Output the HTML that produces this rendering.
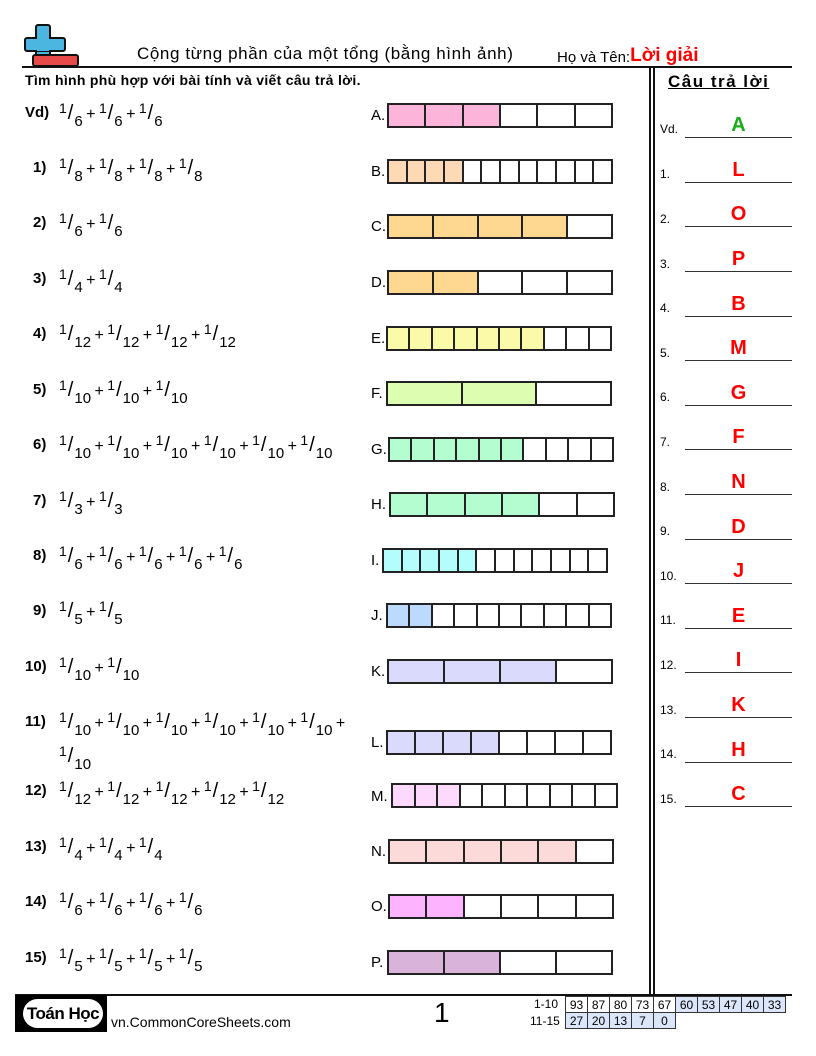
<!DOCTYPE html>
<html><head><meta charset="utf-8"><style>
body{margin:0;width:816px;height:1056px;position:relative;background:#fff;font-family:"Liberation Sans",sans-serif;color:#000;overflow:hidden}
.a{position:absolute;white-space:nowrap}
.bar{position:absolute;height:21px;border:2px solid #222;display:flex;box-sizing:content-box}
.bar div{flex:1;border-right:2px solid #222}
.bar div:last-child{border-right:none}
.n{font-weight:bold;font-size:15px}
.p{font-size:16px;word-spacing:-1px}
.p sup{font-size:14px;vertical-align:6px}
.p sub{font-size:15px;vertical-align:-7px}
.p i{font-style:normal;font-size:20px;margin:0 1px}
.lbl{font-size:15px}
.ans{position:absolute;left:685px;width:107px;border-bottom:1.5px solid #333;height:20px;text-align:center;font-weight:bold;font-size:20px;color:#f00;line-height:16px}
.an{position:absolute;left:660px;font-size:12px}
table{border-collapse:collapse;position:absolute;font-size:12px}
td{border:1px solid #333;padding:0;text-align:center;width:21px;height:15px}
</style></head><body>
<!-- logo -->
<div class="a" style="left:35px;top:24px;width:12px;height:36px;background:#4bb6e0;border:2px solid #111;border-radius:3px"></div>
<div class="a" style="left:24px;top:37px;width:38px;height:11px;background:#4bb6e0;border:2px solid #111;border-radius:3px"></div>
<div class="a" style="left:37px;top:36px;width:12px;height:15px;background:#4bb6e0"></div>
<div class="a" style="left:32px;top:54px;width:43px;height:9px;background:#e84a4a;border:2px solid #111;border-radius:3px"></div>
<div class="a" style="left:137px;top:44px;font-size:17px;letter-spacing:0.6px">Cộng từng phần của một tổng (bằng hình ảnh)</div>
<div class="a" style="left:557px;top:46px;font-size:15px">Họ và Tên:<span style="color:#f00;font-weight:bold;font-size:19px;position:relative;top:-1px">Lời giải</span></div>
<div class="a" style="left:22px;top:66px;width:770px;height:2px;background:#111"></div>
<div class="a" style="left:649px;top:67px;width:1.5px;height:928px;background:#111"></div>
<div class="a" style="left:653px;top:67px;width:1.5px;height:928px;background:#111"></div>
<div class="a" style="left:25px;top:72px;font-size:14px;font-weight:bold;letter-spacing:0.3px">Tìm hình phù hợp với bài tính và viết câu trả lời.</div>
<div class="a" style="left:668px;top:72px;font-size:17px;font-weight:bold;letter-spacing:1.5px;text-decoration:underline">Câu trả lời</div>

<!-- problems -->
<div class="a n" style="left:25px;top:104px">Vd)</div><div class="a p" style="left:59px;top:100px"><sup>1</sup><i>/</i><sub>6</sub> + <sup>1</sup><i>/</i><sub>6</sub> + <sup>1</sup><i>/</i><sub>6</sub></div>
<div class="a n" style="left:33px;top:159px">1)</div><div class="a p" style="left:59px;top:155px"><sup>1</sup><i>/</i><sub>8</sub> + <sup>1</sup><i>/</i><sub>8</sub> + <sup>1</sup><i>/</i><sub>8</sub> + <sup>1</sup><i>/</i><sub>8</sub></div>
<div class="a n" style="left:33px;top:214px">2)</div><div class="a p" style="left:59px;top:210px"><sup>1</sup><i>/</i><sub>6</sub> + <sup>1</sup><i>/</i><sub>6</sub></div>
<div class="a n" style="left:33px;top:270px">3)</div><div class="a p" style="left:59px;top:266px"><sup>1</sup><i>/</i><sub>4</sub> + <sup>1</sup><i>/</i><sub>4</sub></div>
<div class="a n" style="left:33px;top:325px">4)</div><div class="a p" style="left:59px;top:321px"><sup>1</sup><i>/</i><sub>12</sub> + <sup>1</sup><i>/</i><sub>12</sub> + <sup>1</sup><i>/</i><sub>12</sub> + <sup>1</sup><i>/</i><sub>12</sub></div>
<div class="a n" style="left:33px;top:381px">5)</div><div class="a p" style="left:59px;top:377px"><sup>1</sup><i>/</i><sub>10</sub> + <sup>1</sup><i>/</i><sub>10</sub> + <sup>1</sup><i>/</i><sub>10</sub></div>
<div class="a n" style="left:33px;top:436px">6)</div><div class="a p" style="left:59px;top:432px"><sup>1</sup><i>/</i><sub>10</sub> + <sup>1</sup><i>/</i><sub>10</sub> + <sup>1</sup><i>/</i><sub>10</sub> + <sup>1</sup><i>/</i><sub>10</sub> + <sup>1</sup><i>/</i><sub>10</sub> + <sup>1</sup><i>/</i><sub>10</sub></div>
<div class="a n" style="left:33px;top:492px">7)</div><div class="a p" style="left:59px;top:488px"><sup>1</sup><i>/</i><sub>3</sub> + <sup>1</sup><i>/</i><sub>3</sub></div>
<div class="a n" style="left:33px;top:547px">8)</div><div class="a p" style="left:59px;top:543px"><sup>1</sup><i>/</i><sub>6</sub> + <sup>1</sup><i>/</i><sub>6</sub> + <sup>1</sup><i>/</i><sub>6</sub> + <sup>1</sup><i>/</i><sub>6</sub> + <sup>1</sup><i>/</i><sub>6</sub></div>
<div class="a n" style="left:33px;top:602px">9)</div><div class="a p" style="left:59px;top:598px"><sup>1</sup><i>/</i><sub>5</sub> + <sup>1</sup><i>/</i><sub>5</sub></div>
<div class="a n" style="left:25px;top:658px">10)</div><div class="a p" style="left:59px;top:654px"><sup>1</sup><i>/</i><sub>10</sub> + <sup>1</sup><i>/</i><sub>10</sub></div>
<div class="a n" style="left:25px;top:713px">11)</div><div class="a p" style="left:59px;top:709px"><sup>1</sup><i>/</i><sub>10</sub> + <sup>1</sup><i>/</i><sub>10</sub> + <sup>1</sup><i>/</i><sub>10</sub> + <sup>1</sup><i>/</i><sub>10</sub> + <sup>1</sup><i>/</i><sub>10</sub> + <sup>1</sup><i>/</i><sub>10</sub> +</div>
<div class="a p" style="left:59px;top:743px"><sup>1</sup><i>/</i><sub>10</sub></div>
<div class="a n" style="left:25px;top:782px">12)</div><div class="a p" style="left:59px;top:778px"><sup>1</sup><i>/</i><sub>12</sub> + <sup>1</sup><i>/</i><sub>12</sub> + <sup>1</sup><i>/</i><sub>12</sub> + <sup>1</sup><i>/</i><sub>12</sub> + <sup>1</sup><i>/</i><sub>12</sub></div>
<div class="a n" style="left:25px;top:838px">13)</div><div class="a p" style="left:59px;top:834px"><sup>1</sup><i>/</i><sub>4</sub> + <sup>1</sup><i>/</i><sub>4</sub> + <sup>1</sup><i>/</i><sub>4</sub></div>
<div class="a n" style="left:25px;top:893px">14)</div><div class="a p" style="left:59px;top:889px"><sup>1</sup><i>/</i><sub>6</sub> + <sup>1</sup><i>/</i><sub>6</sub> + <sup>1</sup><i>/</i><sub>6</sub> + <sup>1</sup><i>/</i><sub>6</sub></div>
<div class="a n" style="left:25px;top:949px">15)</div><div class="a p" style="left:59px;top:945px"><sup>1</sup><i>/</i><sub>5</sub> + <sup>1</sup><i>/</i><sub>5</sub> + <sup>1</sup><i>/</i><sub>5</sub> + <sup>1</sup><i>/</i><sub>5</sub></div>

<!-- bars -->
<div class="a lbl" style="left:371px;top:107px">A.</div>
<div class="bar" style="left:387px;top:103px;width:222px"><div style="background:#fdb4da"></div><div style="background:#fdb4da"></div><div style="background:#fdb4da"></div><div></div><div></div><div></div></div>
<div class="a lbl" style="left:371px;top:163px">B.</div>
<div class="bar" style="left:387px;top:159px;width:222px"><div style="background:#fdd9b5"></div><div style="background:#fdd9b5"></div><div style="background:#fdd9b5"></div><div style="background:#fdd9b5"></div><div></div><div></div><div></div><div></div><div></div><div></div><div></div><div></div></div>
<div class="a lbl" style="left:371px;top:218px">C.</div>
<div class="bar" style="left:387px;top:214px;width:222px"><div style="background:#fed890"></div><div style="background:#fed890"></div><div style="background:#fed890"></div><div style="background:#fed890"></div><div></div></div>
<div class="a lbl" style="left:371px;top:274px">D.</div>
<div class="bar" style="left:387px;top:270px;width:222px"><div style="background:#fed890"></div><div style="background:#fed890"></div><div></div><div></div><div></div></div>
<div class="a lbl" style="left:371px;top:330px">E.</div>
<div class="bar" style="left:386px;top:326px;width:222px"><div style="background:#fafaa8"></div><div style="background:#fafaa8"></div><div style="background:#fafaa8"></div><div style="background:#fafaa8"></div><div style="background:#fafaa8"></div><div style="background:#fafaa8"></div><div style="background:#fafaa8"></div><div></div><div></div><div></div></div>
<div class="a lbl" style="left:371px;top:385px">F.</div>
<div class="bar" style="left:386px;top:381px;width:222px"><div style="background:#ddfdb0"></div><div style="background:#ddfdb0"></div><div></div></div>
<div class="a lbl" style="left:371px;top:441px">G.</div>
<div class="bar" style="left:388px;top:437px;width:222px"><div style="background:#b3fdd0"></div><div style="background:#b3fdd0"></div><div style="background:#b3fdd0"></div><div style="background:#b3fdd0"></div><div style="background:#b3fdd0"></div><div style="background:#b3fdd0"></div><div></div><div></div><div></div><div></div></div>
<div class="a lbl" style="left:371px;top:496px">H.</div>
<div class="bar" style="left:389px;top:492px;width:222px"><div style="background:#b3fdd0"></div><div style="background:#b3fdd0"></div><div style="background:#b3fdd0"></div><div style="background:#b3fdd0"></div><div></div><div></div></div>
<div class="a lbl" style="left:371px;top:552px">I.</div>
<div class="bar" style="left:382px;top:548px;width:222px"><div style="background:#b3fdfd"></div><div style="background:#b3fdfd"></div><div style="background:#b3fdfd"></div><div style="background:#b3fdfd"></div><div style="background:#b3fdfd"></div><div></div><div></div><div></div><div></div><div></div><div></div><div></div></div>
<div class="a lbl" style="left:371px;top:607px">J.</div>
<div class="bar" style="left:386px;top:603px;width:222px"><div style="background:#bbdafd"></div><div style="background:#bbdafd"></div><div></div><div></div><div></div><div></div><div></div><div></div><div></div><div></div></div>
<div class="a lbl" style="left:371px;top:663px">K.</div>
<div class="bar" style="left:387px;top:659px;width:222px"><div style="background:#dadafd"></div><div style="background:#dadafd"></div><div style="background:#dadafd"></div><div></div></div>
<div class="a lbl" style="left:371px;top:734px">L.</div>
<div class="bar" style="left:386px;top:730px;width:222px"><div style="background:#dadafd"></div><div style="background:#dadafd"></div><div style="background:#dadafd"></div><div style="background:#dadafd"></div><div></div><div></div><div></div><div></div></div>
<div class="a lbl" style="left:371px;top:788px">M.</div>
<div class="bar" style="left:391px;top:783px;width:223px"><div style="background:#fdd9fd"></div><div style="background:#fdd9fd"></div><div style="background:#fdd9fd"></div><div></div><div></div><div></div><div></div><div></div><div></div><div></div></div>
<div class="a lbl" style="left:371px;top:843px">N.</div>
<div class="bar" style="left:388px;top:839px;width:222px"><div style="background:#fddada"></div><div style="background:#fddada"></div><div style="background:#fddada"></div><div style="background:#fddada"></div><div style="background:#fddada"></div><div></div></div>
<div class="a lbl" style="left:371px;top:898px">O.</div>
<div class="bar" style="left:388px;top:894px;width:222px"><div style="background:#fdb3fd"></div><div style="background:#fdb3fd"></div><div></div><div></div><div></div><div></div></div>
<div class="a lbl" style="left:371px;top:954px">P.</div>
<div class="bar" style="left:387px;top:950px;width:222px"><div style="background:#d9b3d9"></div><div style="background:#d9b3d9"></div><div></div><div></div></div>

<!-- answers -->
<div class="an" style="top:122px">Vd.</div><div class="ans" style="top:117px;color:#1aaa1a">A</div>
<div class="an" style="top:167px">1.</div><div class="ans" style="top:162px">L</div>
<div class="an" style="top:212px">2.</div><div class="ans" style="top:206px">O</div>
<div class="an" style="top:257px">3.</div><div class="ans" style="top:251px">P</div>
<div class="an" style="top:301px">4.</div><div class="ans" style="top:296px">B</div>
<div class="an" style="top:346px">5.</div><div class="ans" style="top:340px">M</div>
<div class="an" style="top:390px">6.</div><div class="ans" style="top:385px">G</div>
<div class="an" style="top:435px">7.</div><div class="ans" style="top:429px">F</div>
<div class="an" style="top:480px">8.</div><div class="ans" style="top:474px">N</div>
<div class="an" style="top:524px">9.</div><div class="ans" style="top:519px">D</div>
<div class="an" style="top:569px">10.</div><div class="ans" style="top:563px">J</div>
<div class="an" style="top:613px">11.</div><div class="ans" style="top:608px">E</div>
<div class="an" style="top:658px">12.</div><div class="ans" style="top:652px">I</div>
<div class="an" style="top:703px">13.</div><div class="ans" style="top:697px">K</div>
<div class="an" style="top:747px">14.</div><div class="ans" style="top:742px">H</div>
<div class="an" style="top:792px">15.</div><div class="ans" style="top:786px">C</div>

<!-- footer -->
<div class="a" style="left:15px;top:994px;width:777px;height:2px;background:#111"></div>
<div class="a" style="left:15px;top:995px;width:92px;height:37px;background:#000"></div>
<div class="a" style="left:23px;top:999px;width:80px;height:29px;background:#fff;border-radius:15px;text-align:center;font-weight:bold;font-size:17px;line-height:29px;letter-spacing:-0.5px">Toán Học</div>
<div class="a" style="left:111px;top:1014px;font-size:14px">vn.CommonCoreSheets.com</div>
<div class="a" style="left:434px;top:997px;font-size:28px">1</div>
<div class="a" style="left:534px;top:997px;font-size:12px">1-10</div>
<div class="a" style="left:530px;top:1014px;font-size:12px">11-15</div>
<table style="left:565px;top:996px"><tr><td>93</td><td>87</td><td>80</td><td>73</td><td>67</td><td style="background:#dce6fa">60</td><td style="background:#dce6fa">53</td><td style="background:#dce6fa">47</td><td style="background:#dce6fa">40</td><td style="background:#dce6fa">33</td></tr>
<tr><td style="background:#dce6fa">27</td><td style="background:#dce6fa">20</td><td style="background:#dce6fa">13</td><td style="background:#dce6fa">7</td><td style="background:#dce6fa">0</td><td style="border:none"></td><td style="border:none"></td><td style="border:none"></td><td style="border:none"></td><td style="border:none"></td></tr></table>
</body></html>
